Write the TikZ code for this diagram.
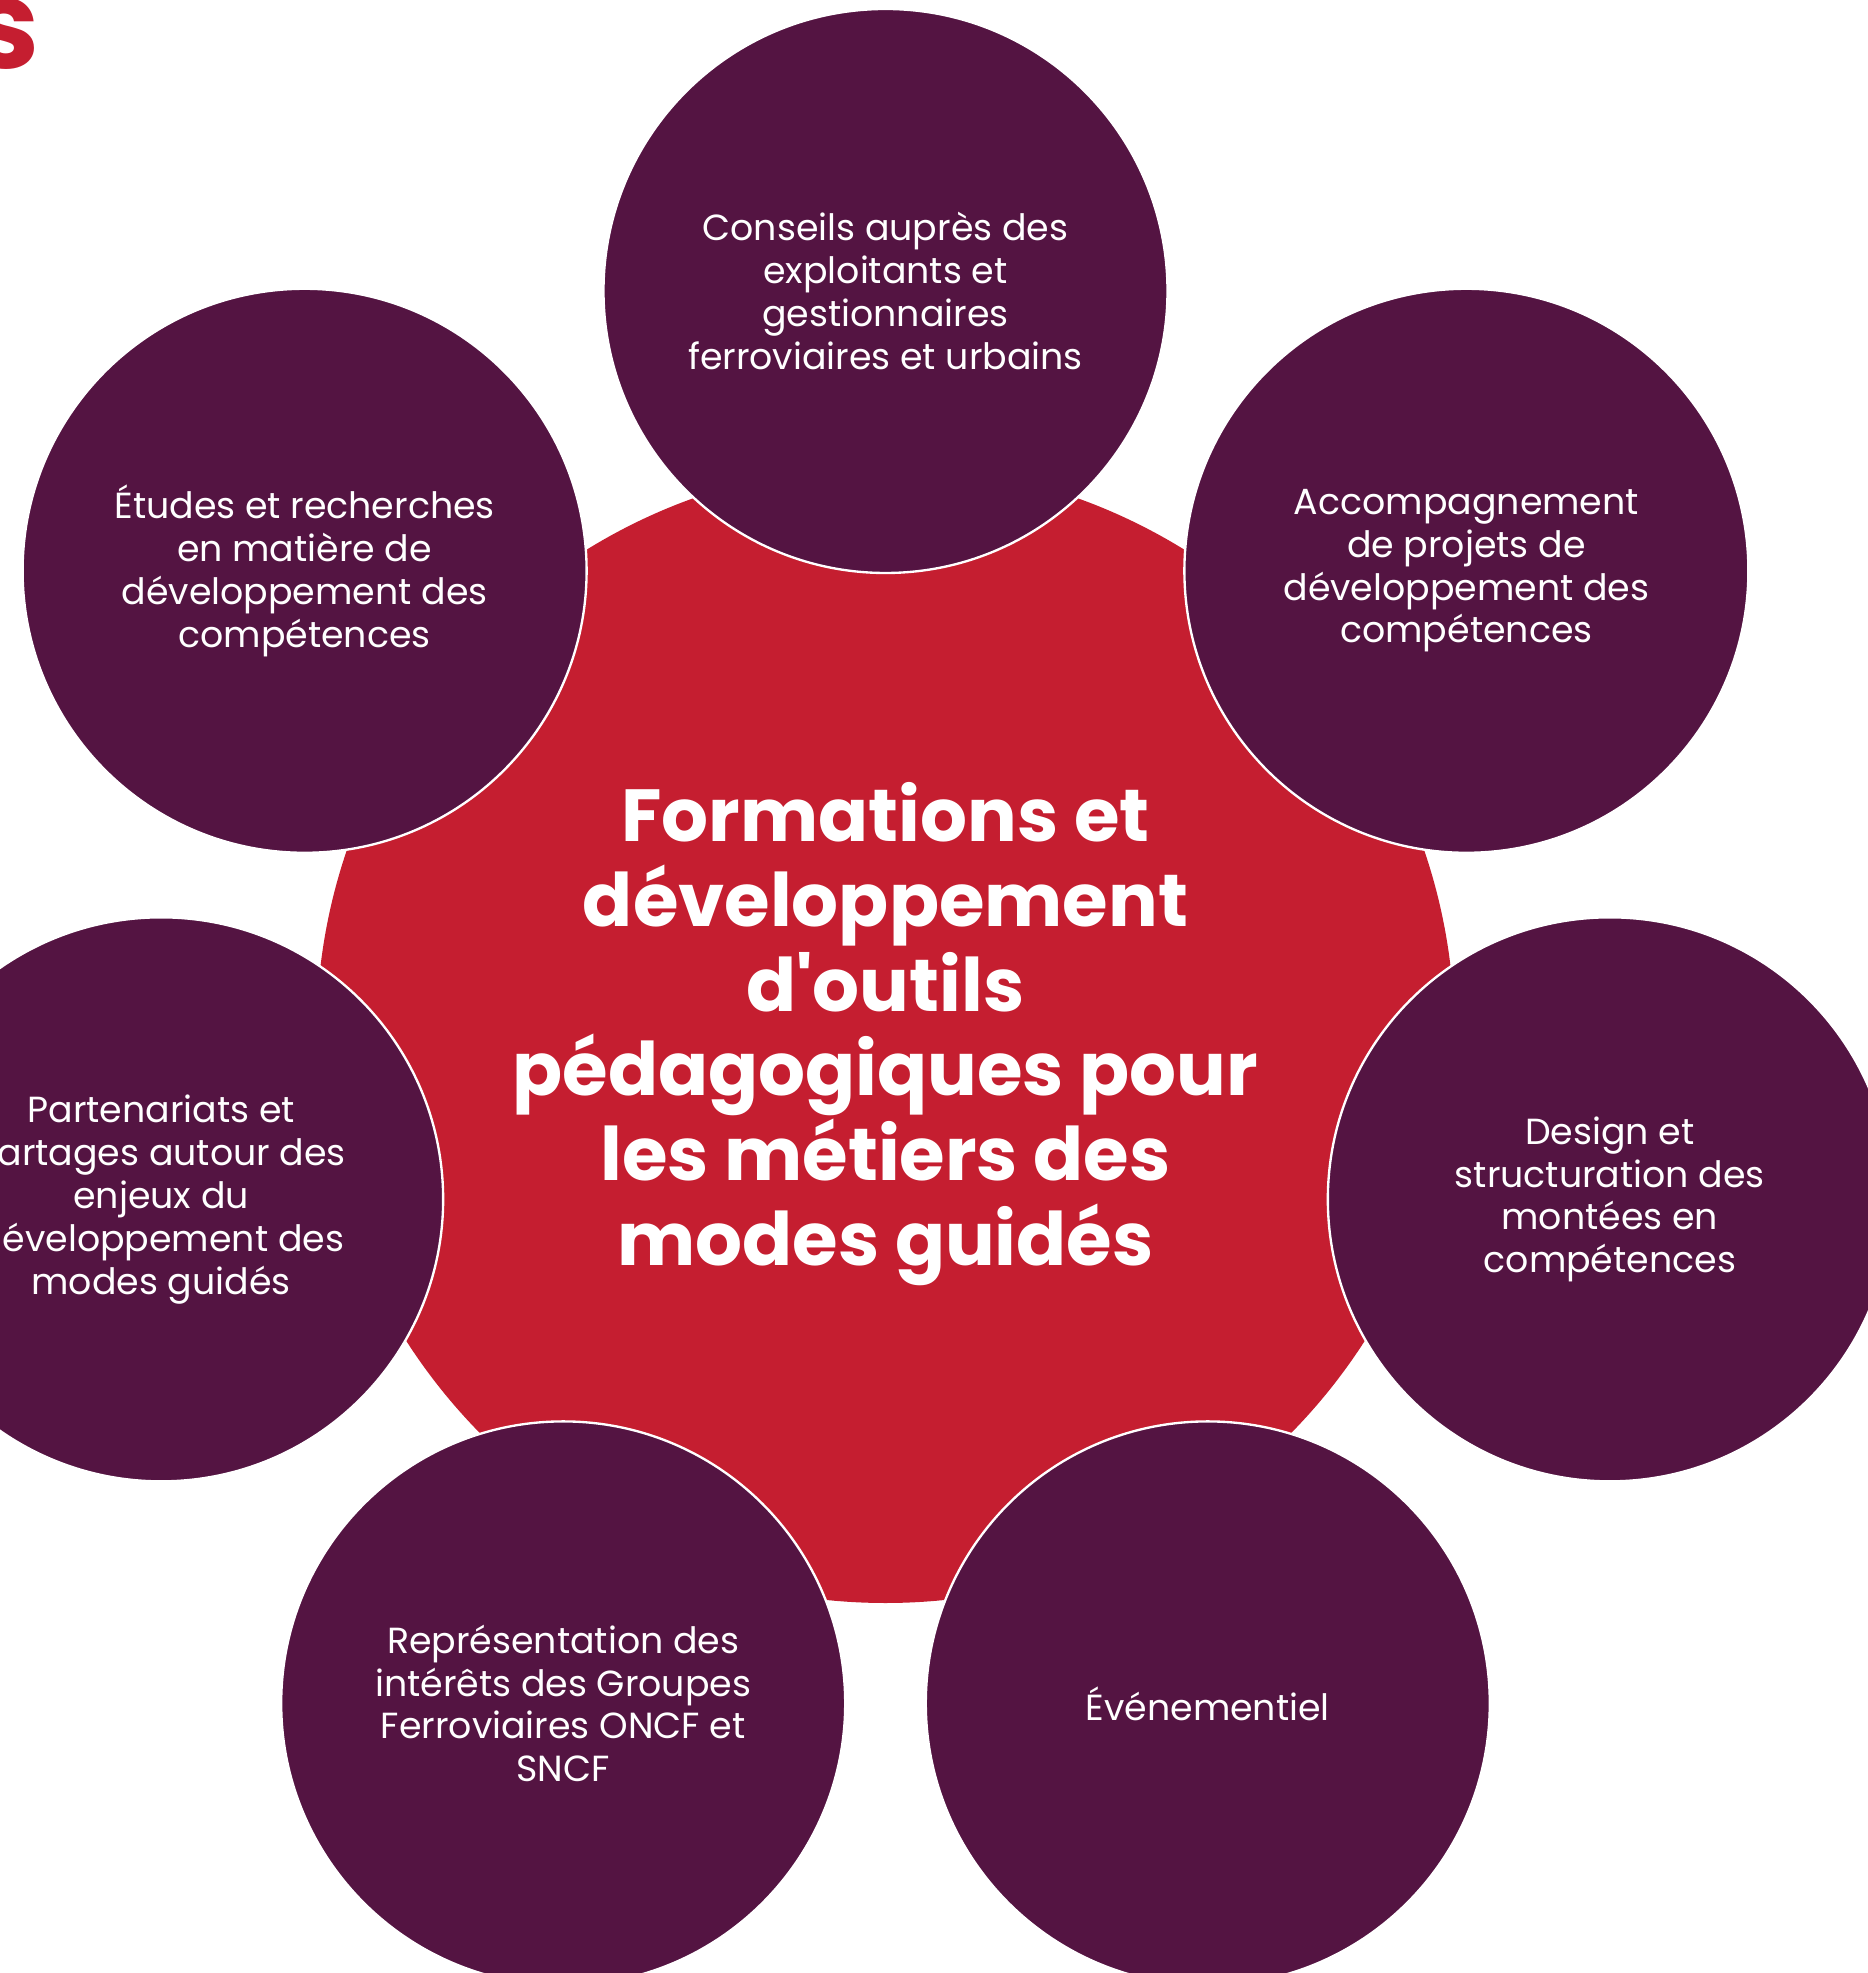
\documentclass[tikz,border=0pt]{standalone}
\usepackage{fontspec}
\setmainfont{Poppins}
\usepackage{tikz}
\usetikzlibrary{positioning,shapes}
\definecolor{prune}{RGB}{84,20,66}
\definecolor{rouge}{RGB}{197,30,48}
\tikzstyle{hub}=[circle, fill=rouge, minimum size=17.07cm, inner sep=0pt, text=white, align=center, font=\fontsize{31.5}{36.2}\selectfont\bfseries]
\tikzstyle{bub}=[circle, fill=prune, draw=white, line width=1pt, minimum size=8.46cm, inner sep=0pt, text=white, align=center, font=\fontsize{15.5}{18.3}\selectfont]

\begin{document}
\begin{tikzpicture}
\useasboundingbox (-13.2825,-14.085) rectangle (14.7225,15.51);
\node[text=rouge, font=\fontsize{53}{55}\selectfont\bfseries, inner sep=0pt, anchor=east] (titre) at (-12.68,15.0) {s};

\node[hub] (centre) at (0,0) {Formations et\\développement\\d\textquotesingle outils\\pédagogiques pour\\les métiers des\\modes guidés};

\node[bub] (conseils) at (90:11.145) {Conseils auprès des\\exploitants et\\gestionnaires\\ferroviaires et urbains};
\node[bub] (etudes) at (141.43:11.145) {Études et recherches\\en matière de\\développement des\\compétences};
\node[bub] (partenariats) at (192.86:11.145) {Partenariats et\\Partages autour des\\enjeux du\\développement des\\modes guidés};
\node[bub] (representation) at (244.29:11.145) {Représentation des\\intérêts des Groupes\\Ferroviaires ONCF et\\SNCF};
\node[bub] (evenementiel) at (295.71:11.145) {Événementiel};
\node[bub] (design) at (347.14:11.145) {Design et\\structuration des\\montées en\\compétences};
\node[bub] (accompagnement) at (38.57:11.145) {Accompagnement\\de projets de\\développement des\\compétences};
\end{tikzpicture}
\end{document}
